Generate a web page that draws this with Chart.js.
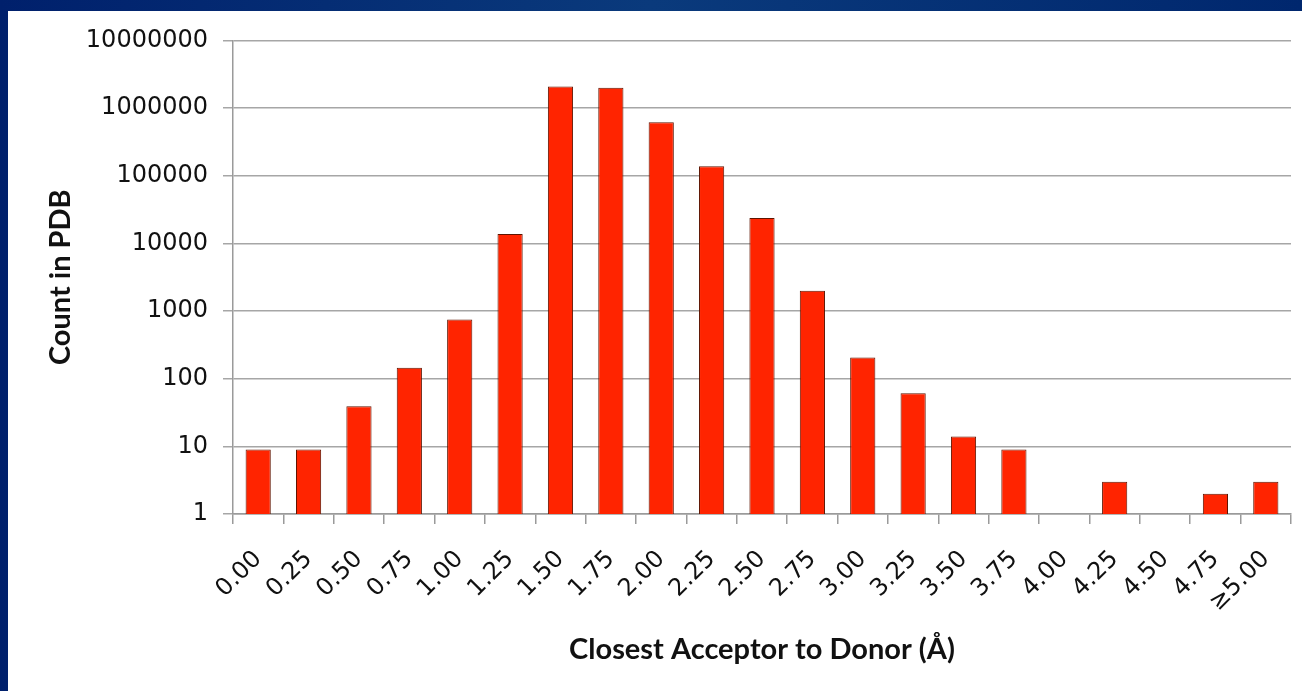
<!DOCTYPE html>
<html>
<head>
<meta charset="utf-8">
<script src="https://cdn.jsdelivr.net/npm/chart.js@4"></script>
<style>
    html, body { margin: 0; padding: 0; }
    body {
        width: 1302px;
        height: 691px;
        overflow: hidden;
        background: linear-gradient(to right, #00206c, #0a3a7c 50%, #00276e);
        position: relative;
    }
    #panel {
        position: absolute;
        left: 8px;
        top: 11px;
        width: 1294px;
        height: 680px;
        background: #ffffff;
    }
</style>
</head>
<body>
<div id="panel"><canvas id="countChart" width="1294" height="680"></canvas></div>
<script>
// distances (Å) et nombre de contacts trouvés dans la PDB
const distances = ["0.00", "0.25", "0.50", "0.75", "1.00", "1.25", "1.50", "1.75", "2.00", "2.25",
    "2.50", "2.75", "3.00", "3.25", "3.50", "3.75", "4.00", "4.25", "4.50", "4.75", "≥5.00"];
const counts = [9, 9, 39, 145, 750, 13700, 2080000, 2000000, 615000, 138000,
    23700, 1990, 205, 61, 14, 9, null, 3, null, 2, 3];
// graduations de l'axe y (puissances de 10)
const yTicks = [1, 10, 100, 1000, 10000, 100000, 1000000, 10000000];

let countChartCan = document.getElementById("countChart").getContext("2d");
var countChart = new Chart(countChartCan, {
    type: "bar",
    data: {
        labels: distances,
        datasets: [{
            label: "Count in PDB",
            data: counts,
            backgroundColor: "#ff2400",
            borderColor: "#5e1400",
            borderWidth: 1,
            barPercentage: 0.5,
            categoryPercentage: 1,
        }, ],
    },
    options: {
        responsive: false,
        animation: false,
        layout: {
            padding: { top: 28, right: 11, left: 0, bottom: 0 },
        },
        scales: {
            y: {
                type: "logarithmic",
                min: 1,
                max: 10000000,
                afterBuildTicks: scale => {
                    scale.ticks = yTicks.map(v => ({ value: v }));
                },
                afterFit: scale => {
                    scale.width = 225;
                },
                ticks: {
                    color: "#111111",
                    padding: 15,
                    font: { family: "DejaVu Sans", size: 24 },
                    callback: value => String(value),
                },
                grid: {
                    color: "#a6a6a6",
                    lineWidth: 1.5,
                    tickLength: 10,
                },
                border: { color: "#9a9a9a", width: 1.5 },
                title: {
                    text: "Count in PDB",
                    display: true,
                    align: "center",
                    color: "#111111",
                    padding: { top: 35 },
                    font: { family: "Lato", weight: "bold", size: 29 },
                },
            },
            x: {
                // hauteur fixe et pas de marge latérale due aux étiquettes inclinées
                afterFit: scale => {
                    scale.height = 177;
                    scale.paddingLeft = 0;
                    scale.paddingRight = 0;
                },
                ticks: {
                    color: "#111111",
                    minRotation: 45,
                    maxRotation: 45,
                    padding: 21,
                    font: { family: "DejaVu Sans", size: 24 },
                },
                grid: {
                    drawOnChartArea: false,
                    color: "#9a9a9a",
                    lineWidth: 1.5,
                    tickLength: 10,
                },
                border: { color: "#9a9a9a", width: 1.5 },
                title: {
                    text: "Closest Acceptor to Donor (Å)",
                    display: true,
                    align: "center",
                    color: "#111111",
                    padding: { bottom: 24 },
                    font: { family: "Lato", weight: "bold", size: 29 },
                },
            },
        },
        plugins: {
            legend: { display: false },
            tooltip: { enabled: false },
        },
    },
});
</script>
</body>
</html>
